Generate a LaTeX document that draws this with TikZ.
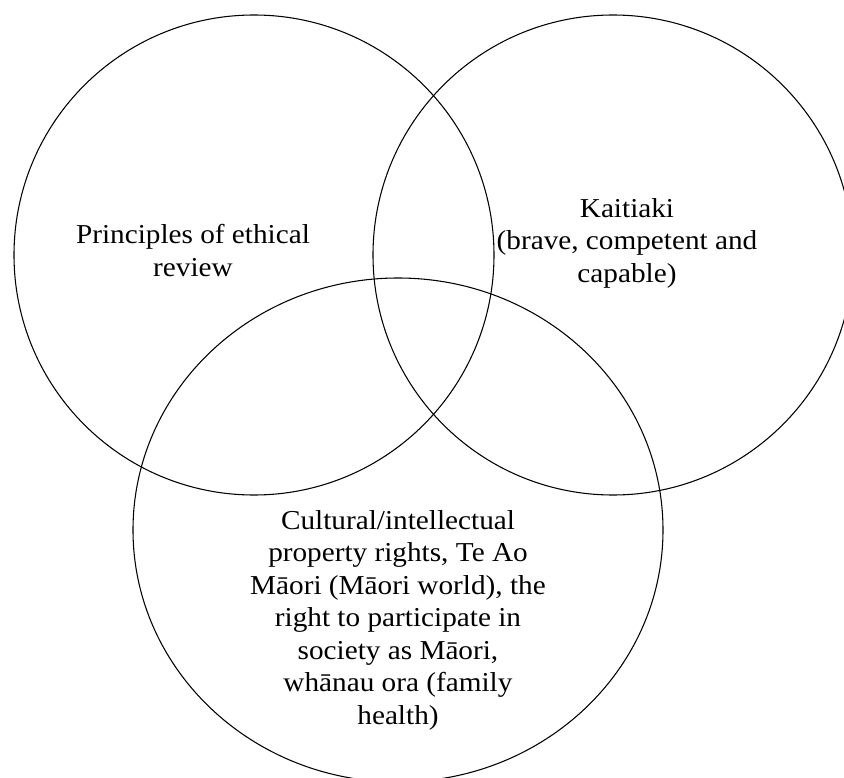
\documentclass[tikz,border=0pt]{standalone}
\usepackage{fontspec}
\setmainfont{Liberation Serif}[FakeStretch=1.07]
\usetikzlibrary{shapes.geometric}
\begin{document}
\begin{tikzpicture}[x=0.75pt,y=-0.75pt,
  ring/.style={draw=black,line width=0.8pt,inner sep=0pt},
  caption/.style={align=center,inner sep=0pt,anchor=north,
    font=\fontsize{20.5}{24.4}\selectfont}]
\useasboundingbox (0,0) rectangle (844,778);
\clip (0,0) rectangle (844,778);

% the three overlapping sets
\node[ring,circle,minimum size=360pt] (ethics) at (254,255) {};
\node[ring,circle,minimum size=360pt] (kaitiaki) at (613,255) {};
\node[ring,ellipse,minimum width=397.5pt,minimum height=378pt] (rights) at (398,530) {};

% set labels
\node[caption] (ethicsText) at (193,224) {Principles of ethical\\review};
\node[caption] (kaitiakiText) at (627,198) {Kaitiaki\\(brave, competent and\\capable)};
\node[caption] (rightsText) at (398,510) {Cultural/intellectual\\property rights, Te Ao\\Māori (Māori world), the\\right to participate in\\society as Māori,\\whānau ora (family\\health)};
\end{tikzpicture}
\end{document}
